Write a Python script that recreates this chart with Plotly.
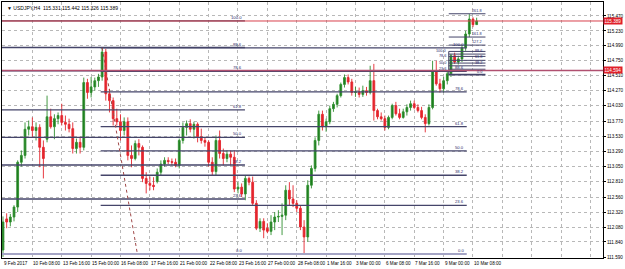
import plotly.graph_objects as go

# ---------------- data (USDJPY H4, bar 0 = 9 Feb 2017 00:00) ----------------
open_ = [111.71, 112.21, 112.16, 112.24, 112.40, 113.12, 113.23, 113.65, 113.69, 113.63,
         113.68, 113.36, 113.49, 113.85, 113.69, 113.82, 113.87, 113.76, 113.73, 113.66,
         113.34, 113.44, 113.36, 114.40, 114.24, 114.33, 114.43, 114.49, 114.89, 114.22,
         114.11, 113.82, 113.77, 113.63, 113.77, 113.23, 113.18, 113.42, 113.36, 112.86,
         112.78, 112.75, 112.81, 112.96, 113.09, 113.15, 113.13, 113.12, 113.07, 113.47,
         113.68, 113.74, 113.65, 113.73, 113.53, 113.47, 113.44, 113.12, 112.97, 113.47,
         113.26, 113.18, 113.25, 113.20, 112.69, 112.72, 112.61, 112.86, 112.80, 112.46,
         112.06, 112.17, 112.06, 112.01, 112.16, 112.24, 112.25, 112.27, 112.67, 112.53,
         112.46, 112.38, 112.08, 111.92, 112.75, 113.02, 113.47, 113.89, 113.69, 113.77,
         113.98, 114.05, 114.19, 114.37, 114.48, 114.41, 114.24, 114.25, 114.21, 114.27,
         114.24, 114.43, 113.95, 113.85, 113.82, 113.68, 113.84, 114.03, 113.90, 113.84,
         113.93, 114.00, 114.06, 114.00, 113.95, 113.84, 113.74, 114.00, 114.59, 114.38,
         114.30, 114.43, 114.54, 114.83, 114.73, 114.78, 114.96, 115.18, 115.42, 115.331]
high_ = [112.25, 112.30, 112.29, 112.43, 113.15, 113.31, 113.76, 113.79, 113.84, 113.76,
         113.73, 113.47, 114.19, 113.98, 113.89, 113.92, 114.06, 113.87, 113.82, 113.76,
         113.50, 113.53, 114.48, 114.46, 114.49, 114.48, 114.54, 114.96, 114.94, 114.30,
         114.16, 113.98, 113.89, 113.84, 113.84, 113.39, 113.47, 113.49, 113.39, 112.96,
         112.89, 112.88, 113.02, 113.15, 113.20, 113.20, 113.18, 113.18, 113.50, 113.76,
         113.79, 113.81, 113.77, 113.76, 113.66, 113.52, 113.47, 113.20, 113.55, 113.63,
         113.34, 113.31, 113.31, 113.31, 112.80, 112.78, 112.91, 112.89, 112.89, 112.51,
         112.22, 112.22, 112.14, 112.27, 112.32, 112.35, 112.46, 112.75, 112.80, 112.75,
         112.51, 112.43, 112.19, 112.83, 113.07, 113.52, 113.95, 113.95, 113.82, 114.03,
         114.09, 114.22, 114.40, 114.53, 114.53, 114.46, 114.33, 114.32, 114.35, 114.33,
         114.67, 114.70, 113.98, 113.92, 113.87, 113.87, 114.06, 114.09, 113.98, 113.98,
         114.05, 114.11, 114.11, 114.05, 114.01, 113.89, 114.05, 114.75, 114.75, 114.46,
         114.49, 114.59, 114.86, 114.88, 114.83, 115.01, 115.23, 115.50, 115.45, 115.442]
low_ = [111.60, 112.06, 112.09, 112.17, 112.32, 113.05, 113.18, 113.55, 113.52, 113.47,
        113.04, 112.86, 113.44, 113.66, 113.49, 113.73, 113.71, 113.63, 113.60, 113.26,
        113.26, 113.26, 113.31, 114.14, 114.16, 114.27, 114.33, 114.43, 114.11, 113.92,
        113.71, 113.71, 113.47, 113.55, 113.15, 113.04, 113.15, 113.23, 112.80, 112.62,
        112.67, 112.67, 112.78, 112.91, 113.05, 113.09, 113.07, 113.04, 113.02, 113.42,
        113.55, 113.60, 113.50, 113.44, 113.42, 113.37, 113.05, 112.91, 112.91, 113.18,
        113.07, 113.12, 113.07, 112.64, 112.62, 112.56, 112.51, 112.75, 112.43, 112.03,
        112.00, 111.90, 111.98, 111.95, 112.03, 112.16, 111.95, 112.19, 112.43, 112.40,
        112.32, 112.03, 111.65, 111.84, 112.70, 112.97, 113.39, 113.63, 113.61, 113.73,
        113.93, 114.00, 114.16, 114.32, 114.37, 114.19, 114.17, 114.16, 114.17, 114.19,
        114.21, 113.79, 113.81, 113.79, 113.63, 113.65, 113.81, 113.87, 113.81, 113.82,
        113.87, 113.95, 113.97, 113.92, 113.81, 113.60, 113.71, 113.97, 114.35, 114.24,
        114.24, 114.37, 114.49, 114.70, 114.69, 114.73, 114.91, 115.13, 115.29, 115.326]
close_ = [112.16, 112.16, 112.24, 112.40, 113.12, 113.23, 113.65, 113.69, 113.63, 113.68,
          113.36, 113.18, 113.85, 113.69, 113.82, 113.87, 113.76, 113.73, 113.66, 113.34,
          113.44, 113.36, 114.40, 114.24, 114.33, 114.43, 114.49, 114.89, 114.22, 114.11,
          113.82, 113.77, 113.63, 113.77, 113.23, 113.18, 113.42, 113.36, 112.86, 112.78,
          112.75, 112.73, 112.96, 113.09, 113.15, 113.13, 113.12, 113.07, 113.47, 113.68,
          113.74, 113.65, 113.73, 113.53, 113.47, 113.44, 113.12, 112.97, 113.47, 113.26,
          113.18, 113.25, 113.20, 112.69, 112.72, 112.61, 112.86, 112.80, 112.46, 112.06,
          112.17, 112.03, 112.01, 112.16, 112.24, 112.25, 112.27, 112.67, 112.53, 112.46,
          112.38, 112.08, 111.92, 112.75, 113.02, 113.47, 113.89, 113.69, 113.77, 113.98,
          114.05, 114.19, 114.37, 114.48, 114.41, 114.24, 114.25, 114.21, 114.27, 114.24,
          114.43, 113.95, 113.85, 113.82, 113.68, 113.84, 114.03, 113.90, 113.84, 113.93,
          114.00, 114.06, 114.00, 113.95, 113.84, 113.74, 114.00, 114.59, 114.38, 114.30,
          114.43, 114.54, 114.83, 114.73, 114.78, 114.96, 115.18, 115.42, 115.33, 115.389]
bars = list(range(len(open_)))

x_label_bars = [0, 8, 16, 24, 32, 40, 48, 56, 64, 72, 80, 88, 96, 104, 112, 120, 128]
x_labels = ["9 Feb 2017", "10 Feb 08:00", "13 Feb 16:00", "15 Feb 00:00", "16 Feb 08:00",
            "17 Feb 16:00", "21 Feb 00:00", "22 Feb 08:00", "23 Feb 16:00", "27 Feb 00:00",
            "28 Feb 08:00", "1 Mar 16:00", "3 Mar 00:00", "6 Mar 08:00", "7 Mar 16:00",
            "9 Mar 00:00", "10 Mar 08:00"]
grid_bars = list(range(0, 161, 8))

y_ticks = [115.470, 115.230, 114.990, 114.750, 114.510, 114.270, 114.030, 113.770,
           113.530, 113.290, 113.050, 112.810, 112.560, 112.320, 112.080, 111.840, 111.590]
y_tick_text = ["115.470", "115.230", "114.990", "114.750", "114.510", "114.270", "114.030",
               "113.770", "113.530", "113.290", "113.050", "112.810", "112.560", "112.320",
               "112.080", "111.840", "111.590"]

title_text = "▼ USDJPY,H4  115.331 115.442 115.326 115.389"

fib_levels = [0.0, 23.6, 38.2, 50.0, 61.8, 78.6, 88.6, 100.0]
fibA_low, fibA_high = 111.646, 115.390
fibA_span = (-0.6, 65.9)
fibB_low, fibB_high = 111.646, 114.958
fibB_span = (26.6, 126.3)
fibB_trend = ((27, 114.958), (36.6, 111.646))
fibC_levels = [0.0, 23.6, 38.2, 50.0, 61.8, 78.6, 88.6, 100.0, 127.2, 161.8, 261.8]
fibC_left_labels = [23.6, 50.0, 78.6, 100.0]
fibC_low, fibC_high = 114.526, 114.900
fibC_span = (121.4, 131.4)

bid_price = 115.389
hline_price = 114.594

X_RANGE = [-0.27, 163.41]
Y_RANGE = [111.582, 115.694]

FONT = "Liberation Sans, Arial, sans-serif"
LINE_DARK = "#45456a"
LINE_ZERO = "#a4a4c4"
LABEL_COL = "#2a2a6a"

fig = go.Figure()


def level_price(lo, hi, lvl):
    return lo + (hi - lo) * lvl / 100.0


def add_fib(lo, hi, levels, span, width=1.3, zero_col=LINE_ZERO, label_size=4.2, left_labels=()):
    xs_d, ys_d, xs_z, ys_z = [], [], [], []
    for lvl in levels:
        p = level_price(lo, hi, lvl)
        if lvl == 0.0:
            xs_z += [span[0], span[1], None]
            ys_z += [p, p, None]
        else:
            xs_d += [span[0], span[1], None]
            ys_d += [p, p, None]
        if lvl in left_labels:
            fig.add_annotation(x=span[0], y=p, xref="x", yref="y", text=f"{lvl:.1f}",
                               showarrow=False, xanchor="right", yanchor="middle",
                               xshift=-1, yshift=0,
                               font=dict(size=label_size, color=LABEL_COL, family=FONT))
        else:
            fig.add_annotation(x=span[1], y=p, xref="x", yref="y", text=f"{lvl:.1f}",
                               showarrow=False, xanchor="right", yanchor="bottom",
                               xshift=-1, yshift=-1,
                               font=dict(size=label_size, color=LABEL_COL, family=FONT))
    fig.add_trace(go.Scatter(x=xs_d, y=ys_d, mode="lines", hoverinfo="skip",
                             line=dict(color=LINE_DARK, width=width), showlegend=False))
    fig.add_trace(go.Scatter(x=xs_z, y=ys_z, mode="lines", hoverinfo="skip",
                             line=dict(color=zero_col, width=width + 0.7), showlegend=False))


add_fib(fibA_low, fibA_high, fib_levels, fibA_span)
add_fib(fibB_low, fibB_high, fib_levels, fibB_span)
add_fib(fibC_low, fibC_high, fibC_levels, fibC_span, width=1.0, zero_col=LINE_DARK,
        label_size=3.8, left_labels=fibC_left_labels)

# fib trend lines
fig.add_trace(go.Scatter(x=[fibB_trend[0][0], fibB_trend[1][0]],
                         y=[fibB_trend[0][1], fibB_trend[1][1]], mode="lines",
                         hoverinfo="skip", showlegend=False,
                         line=dict(color="#a04848", width=1, dash="dot")))
fig.add_trace(go.Scatter(x=[fibC_span[0], fibC_span[0]], y=[fibC_high, fibC_low], mode="lines",
                         hoverinfo="skip", showlegend=False,
                         line=dict(color="#404060", width=1)))

# horizontal line object and bid line
fig.add_trace(go.Scatter(x=X_RANGE, y=[hline_price, hline_price], mode="lines", hoverinfo="skip",
                         showlegend=False, line=dict(color="#b05070", width=1.4)))
fig.add_trace(go.Scatter(x=X_RANGE, y=[bid_price, bid_price], mode="lines", hoverinfo="skip",
                         showlegend=False, line=dict(color="#d8404c", width=1)))

fig.add_trace(go.Candlestick(
    x=bars, open=open_, high=high_, low=low_, close=close_,
    increasing=dict(line=dict(color="#2f8f2f", width=0.9), fillcolor="#1c7a1c"),
    decreasing=dict(line=dict(color="#e4262e", width=0.9), fillcolor="#e4262e"),
    whiskerwidth=0, hoverinfo="skip", showlegend=False))

# bottom time labels
for b, t in zip(x_label_bars, x_labels):
    fig.add_annotation(x=b, y=0, xref="x", yref="paper", text=t, showarrow=False,
                       xanchor="left", yanchor="top", xshift=-1, yshift=-1,
                       font=dict(size=4.6, color="#000000", family=FONT))

# price boxes on the right axis
for price, txt in [(bid_price, "115.389"), (hline_price, "114.594")]:
    fig.add_annotation(x=1, y=price, xref="paper", yref="y", text=txt, showarrow=False,
                       xanchor="left", yanchor="middle", xshift=0,
                       bgcolor="#e0202a", borderpad=0.6,
                       font=dict(size=4.6, color="#ffffff", family=FONT))

fig.add_annotation(x=0, y=1, xref="paper", yref="paper", text=title_text, showarrow=False,
                   xanchor="left", yanchor="top", xshift=3, yshift=-1,
                   font=dict(size=5.0, color="#000000", family=FONT))

fig.update_layout(
    width=625, height=269,
    margin=dict(l=1, r=20, t=1, b=11),
    paper_bgcolor="#ffffff", plot_bgcolor="#ffffff",
    showlegend=False,
    xaxis=dict(range=X_RANGE, tickvals=grid_bars, showticklabels=False, ticks="",
               showgrid=True, gridcolor="#b8b8b8", griddash="dot", gridwidth=1,
               zeroline=False, showline=True, mirror=True, linecolor="#000000", linewidth=1,
               rangeslider=dict(visible=False), fixedrange=True),
    yaxis=dict(range=Y_RANGE, side="right", tickvals=y_ticks, ticktext=y_tick_text,
               ticks="outside", ticklen=2, tickcolor="#000000",
               tickfont=dict(size=4.6, color="#000000", family=FONT),
               showgrid=True, gridcolor="#b8b8b8", griddash="dot", gridwidth=1,
               zeroline=False, showline=True, mirror=True, linecolor="#000000", linewidth=1,
               fixedrange=True),
)

fig.write_html("out.html")
